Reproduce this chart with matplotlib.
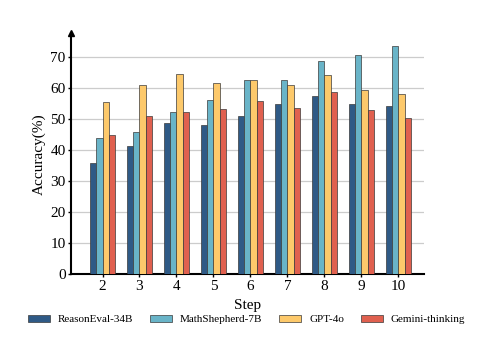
import numpy as np
import matplotlib.pyplot as plt

steps = [2, 3, 4, 5, 6, 7, 8, 9, 10]
reasoneval = [35.9, 41.3, 48.8, 48.0, 50.8, 54.8, 57.3, 54.7, 54.1]
mathshepherd = [44.0, 45.9, 52.3, 56.1, 62.6, 62.4, 68.5, 70.6, 73.5]
gpt4o = [55.3, 60.9, 64.3, 61.6, 62.5, 60.9, 64.1, 59.4, 57.9]
gemini = [44.9, 50.9, 52.3, 53.1, 55.7, 53.6, 58.6, 52.7, 50.3]

names = ["ReasonEval-34B", "MathShepherd-7B", "GPT-4o", "Gemini-thinking"]
colors = ["#2f5a86", "#69b4c8", "#fdc96b", "#e0604f"]

plt.rcParams['font.family'] = ['Liberation Serif', 'DejaVu Serif']

fig = plt.figure(figsize=(4.87, 3.55), dpi=100)
ax = fig.add_axes([0.146, 0.227, 0.725, 0.68])

x = np.array(steps, dtype=float)
w = 0.17
series = [reasoneval, mathshepherd, gpt4o, gemini]
for i, (vals, name, c) in enumerate(zip(series, names, colors)):
    ax.bar(x + (i - 1.5) * w, vals, w, color=c, edgecolor="#3a3a3a",
           linewidth=0.5, label=name, zorder=3)

ax.set_xlim(1.15, 10.7)
ax.set_ylim(0, 77.6)
ax.set_xticks(steps)
ax.set_yticks(range(0, 80, 10))
ax.yaxis.grid(True, color="#cccccc", linewidth=0.9, zorder=0)
ax.set_axisbelow(True)

for s in ["top", "right"]:
    ax.spines[s].set_visible(False)
ax.spines["left"].set_linewidth(1.5)
ax.spines["bottom"].set_linewidth(1.5)
ax.plot(0, 1, "^k", markersize=5, transform=ax.transAxes, clip_on=False)

ax.tick_params(axis="both", labelsize=11, length=2, width=1, pad=2)
ax.set_xlabel("Step", fontsize=11, labelpad=4)
ax.set_ylabel("Accuracy(%)", fontsize=11, labelpad=3)

ax.legend(loc="upper center", bbox_to_anchor=(0.497, -0.125), ncol=4,
          frameon=False, fontsize=8, handlelength=2.0, handleheight=0.6,
          columnspacing=1.5, handletextpad=0.7)

fig.savefig("out.png", dpi=100)
